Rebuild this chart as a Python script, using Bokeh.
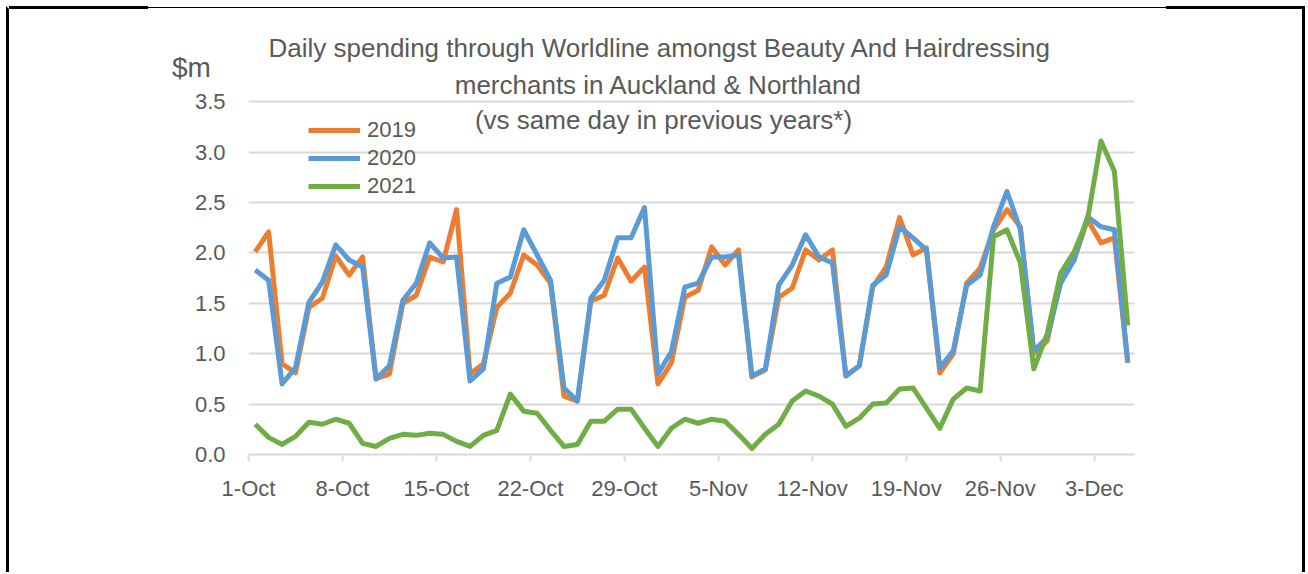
from bokeh.plotting import figure
from bokeh.models import (Range1d, FixedTicker, Legend, LegendItem, Label, Title,
                          NumeralTickFormatter)
from bokeh.embed import file_html
from bokeh.resources import INLINE

# ---- data ----
tick_days = [0, 7, 14, 21, 28, 35, 42, 49, 56, 63]
tick_labels = ["1-Oct", "8-Oct", "15-Oct", "22-Oct", "29-Oct", "5-Nov",
               "12-Nov", "19-Nov", "26-Nov", "3-Dec"]
y_ticks = [0, 0.5, 1.0, 1.5, 2.0, 2.5, 3.0, 3.5]

y2019 = [2.01, 2.21, 0.90, 0.81, 1.46, 1.55, 1.97, 1.78, 1.96, 0.75,
         0.80, 1.50, 1.58, 1.96, 1.91, 2.43, 0.80, 0.90, 1.46, 1.60,
         1.98, 1.88, 1.70, 0.58, 0.53, 1.52, 1.58, 1.95, 1.72, 1.86,
         0.70, 0.91, 1.56, 1.63, 2.06, 1.88, 2.03, 0.77, 0.84, 1.56,
         1.65, 2.03, 1.93, 2.03, 0.78, 0.88, 1.66, 1.86, 2.35, 1.98,
         2.05, 0.81, 1.00, 1.70, 1.85, 2.23, 2.43, 2.26, 1.00, 1.13,
         1.76, 1.93, 2.33, 2.10, 2.15, 0.91]
y2020 = [1.83, 1.73, 0.70, 0.86, 1.51, 1.71, 2.08, 1.93, 1.86, 0.75,
         0.88, 1.53, 1.70, 2.10, 1.95, 1.96, 0.73, 0.85, 1.70, 1.76,
         2.23, 1.98, 1.73, 0.66, 0.53, 1.55, 1.73, 2.15, 2.15, 2.45,
         0.80, 1.02, 1.66, 1.70, 1.96, 1.96, 1.98, 0.78, 0.85, 1.68,
         1.88, 2.18, 1.96, 1.90, 0.78, 0.88, 1.68, 1.78, 2.26, 2.15,
         2.03, 0.86, 1.03, 1.68, 1.78, 2.26, 2.61, 2.23, 1.03, 1.16,
         1.70, 1.93, 2.36, 2.26, 2.23, 0.91]
y2021 = [0.30, 0.17, 0.10, 0.18, 0.32, 0.30, 0.35, 0.31, 0.11, 0.08,
         0.16, 0.20, 0.19, 0.21, 0.20, 0.13, 0.08, 0.19, 0.24, 0.60,
         0.43, 0.41, 0.24, 0.08, 0.10, 0.33, 0.33, 0.45, 0.45, 0.26,
         0.08, 0.26, 0.35, 0.31, 0.35, 0.33, 0.20, 0.06, 0.20, 0.30,
         0.53, 0.63, 0.58, 0.50, 0.28, 0.36, 0.50, 0.51, 0.65, 0.66,
         0.46, 0.26, 0.55, 0.66, 0.63, 2.16, 2.23, 1.90, 0.85, 1.20,
         1.80, 2.01, 2.33, 3.11, 2.81, 1.28]

series_names = ["2019", "2020", "2021"]
series_colors = ["#ED7D31", "#5B9BD5", "#70AD47"]

title_lines = ["Daily spending through Worldline amongst Beauty And Hairdressing",
               "merchants in Auckland & Northland",
               "(vs same day in previous years*)"]
unit_label = "$m"

n_days = len(y2019)
x = [i + 0.5 for i in range(n_days)]

FONT = "Liberation Sans"
TXT = "#595959"
GRID = "#d9d9d9"

# canvas is offset inside the page by CSS margin + border
OFFX, OFFY = 9, 11
CW, CH = 1293, 563
PX_PER_UNIT = 100.0           # vertical pixels per $1m
FRAME_TOP = 69                # page y of frame top
Y_TOP = (453 - FRAME_TOP) / PX_PER_UNIT

p = figure(width=CW, height=CH, output_backend="svg", toolbar_location=None,
           x_range=Range1d(0, n_days), y_range=Range1d(0, Y_TOP),
           min_border_left=248 - OFFX, min_border_right=174,
           min_border_top=FRAME_TOP - OFFY, min_border_bottom=OFFY + CH - 453)
p.title = None
p.outline_line_color = None
p.background_fill_color = "white"
p.border_fill_color = "white"
blk = "linear-gradient(#000, #000)"
p.styles = {
    "margin-left": "6px", "margin-top": "6px",
    "border-left": "3px solid black", "border-right": "3px solid black",
    "border-top": "3px solid transparent", "box-sizing": "content-box",
    "background-image": f"{blk}, {blk}, {blk}",
    "background-repeat": "no-repeat",
    "background-origin": "border-box",
    "background-clip": "border-box",
    "background-position": "left top, right top, left 0px top 1px",
    "background-size": "142px 3px, 139px 3px, 100% 1px",
}

renderers = []
for ys, c in zip([y2019, y2020, y2021], series_colors):
    r = p.line(x, ys, line_color=c, line_width=5, line_join="round")
    renderers.append(r)

# axes
p.xaxis.ticker = FixedTicker(ticks=tick_days)
p.xaxis.major_label_overrides = {d: l for d, l in zip(tick_days, tick_labels)}
p.xaxis.axis_line_color = GRID
p.xaxis.axis_line_width = 2
p.xaxis.major_tick_line_color = GRID
p.xaxis.major_tick_line_width = 2
p.xaxis.major_tick_in = 0
p.xaxis.major_tick_out = 7
p.xaxis.minor_tick_line_color = None
p.xaxis.major_label_standoff = 14
p.xaxis.major_label_text_font = FONT
p.xaxis.major_label_text_font_size = "22px"
p.xaxis.major_label_text_color = TXT

yax = p.yaxis[0]
yax.ticker = FixedTicker(ticks=y_ticks)
yax.formatter = NumeralTickFormatter(format="0.0")
yax.axis_line_color = None
yax.major_tick_line_color = None
yax.minor_tick_line_color = None
yax.major_label_standoff = 17
yax.major_label_text_font = FONT
yax.major_label_text_font_size = "22px"
yax.major_label_text_color = TXT
yax.axis_label = unit_label
yax.axis_label_orientation = "horizontal"
yax.axis_label_standoff = -19
yax.axis_label_text_font = FONT
yax.axis_label_text_font_size = "28px"
yax.axis_label_text_font_style = "normal"
yax.axis_label_text_color = TXT
if "axis_label_align" in yax.properties():
    yax.axis_label_align = "end"

p.xgrid.grid_line_color = None
p.ygrid.grid_line_color = GRID
p.ygrid.grid_line_width = 2
p.ygrid.ticker = FixedTicker(ticks=y_ticks)

# legend
legend = Legend(items=[LegendItem(label=n, renderers=[r]) for n, r in zip(series_names, renderers)],
                location=(60, 254))
legend.glyph_width = 52
legend.glyph_height = 28
legend.label_height = 28
legend.spacing = 0
legend.padding = 0
legend.margin = 0
legend.label_standoff = 7
legend.label_text_font = FONT
legend.label_text_font_size = "22px"
legend.label_text_color = TXT
legend.border_line_color = None
legend.background_fill_alpha = 0
p.add_layout(legend)

# title: first line in the panel above the frame, the rest inside it
p.add_layout(Title(text=title_lines[0], align="left", offset=20,
                   text_font=FONT, text_font_size="26px", text_font_style="normal",
                   text_color=TXT), "above")
for t, tx, ty in zip(title_lines[1:], [655, 660], [83, 118]):
    p.add_layout(Label(x=tx - OFFX, y=ty - OFFY, x_units="canvas", y_units="canvas", text=t,
                       text_align="center", text_baseline="middle",
                       text_font=FONT, text_font_size="26px", text_color=TXT))

open("out.html", "w").write(file_html(p, INLINE))
